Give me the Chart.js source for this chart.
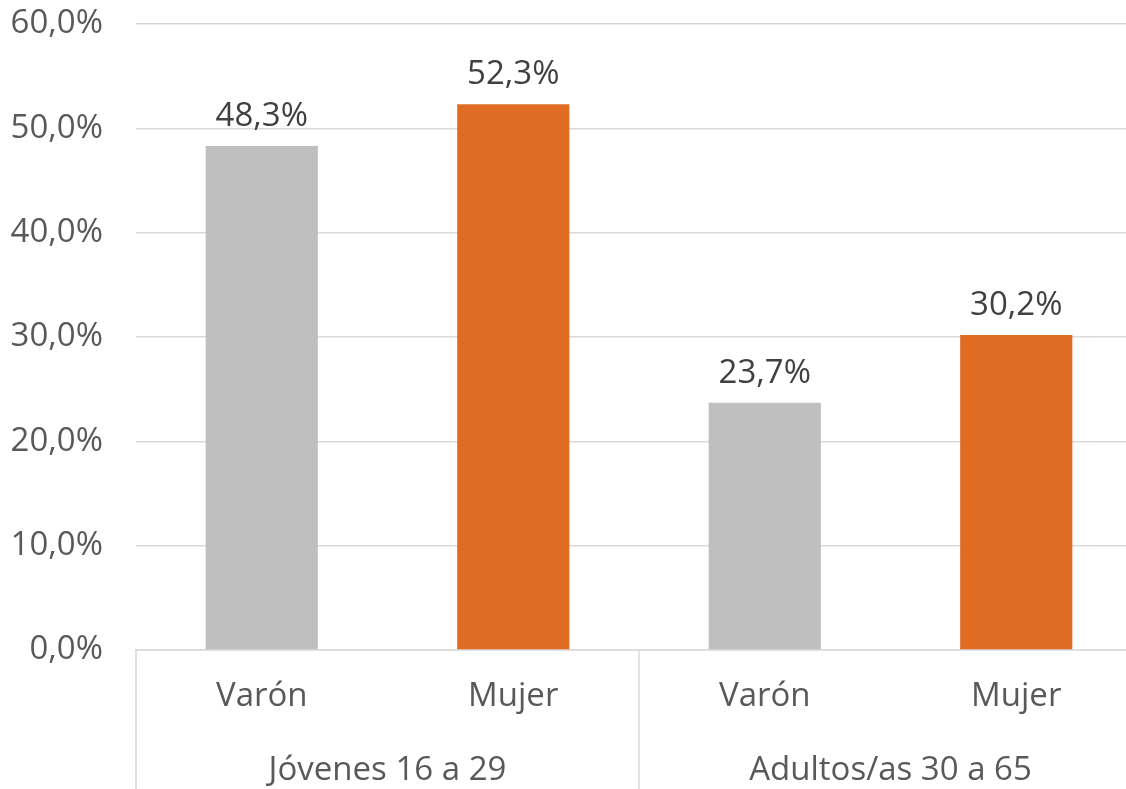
<!DOCTYPE html>
<html>
<head>
<meta charset="utf-8">
<script src="https://cdn.jsdelivr.net/npm/chart.js@4/dist/chart.umd.min.js"></script>
<style>
    html, body { margin: 0; padding: 0; background: #fff; overflow: hidden; }
    #wrap { width: 1142px; height: 789px; }
</style>
</head>
<body>
<div id="wrap"><canvas id="chart1"></canvas></div>
<script>
// Values
const categories = ["Varón", "Mujer", "Varón", "Mujer"];
const groups = ["Jóvenes 16 a 29", "Adultos/as 30 a 65"];
const values = [48.3, 52.3, 23.7, 30.2];
const barColors = ["#BFBFBF", "#E06B22", "#BFBFBF", "#E06B22"];
const yTicks = [0, 10, 20, 30, 40, 50, 60];

const FONT = "'Open Sans', sans-serif";
const pct = (v) => v.toFixed(1).replace(".", ",") + "%";

// Draws value labels above bars, plus group separators and group labels under the axis
const groupAxisPlugin = {
    id: "groupAxis",
    afterDatasetsDraw(chart) {
        const ctx = chart.ctx;
        const meta = chart.getDatasetMeta(0);
        ctx.save();
        ctx.font = "33px " + FONT;
        ctx.fillStyle = "#404040";
        ctx.textAlign = "center";
        ctx.textBaseline = "bottom";
        meta.data.forEach((bar, i) => {
            ctx.fillText(pct(values[i]), bar.x, bar.y - 13);
        });
        ctx.restore();
    },
    afterDraw(chart) {
        const ctx = chart.ctx;
        const x = chart.scales.x;
        const bottom = chart.chartArea.bottom;
        const perGroup = categories.length / groups.length;
        const half = (x.getPixelForValue(1) - x.getPixelForValue(0)) / 2;
        ctx.save();
        ctx.strokeStyle = "#D9D9D9";
        ctx.lineWidth = 1.5;
        for (let g = 0; g <= groups.length; g++) {
            const idx = Math.min(g * perGroup, categories.length - 1);
            const px = g * perGroup < categories.length
                ? x.getPixelForValue(idx) - half
                : x.getPixelForValue(idx) + half;
            ctx.beginPath();
            ctx.moveTo(px, bottom);
            ctx.lineTo(px, chart.height);
            ctx.stroke();
        }
        ctx.font = "33px " + FONT;
        ctx.fillStyle = "#595959";
        ctx.textAlign = "center";
        ctx.textBaseline = "middle";
        groups.forEach((name, g) => {
            const a = x.getPixelForValue(g * perGroup);
            const b = x.getPixelForValue(g * perGroup + perGroup - 1);
            ctx.fillText(name, (a + b) / 2, bottom + 121);
        });
        ctx.restore();
    }
};

const chartData = {
    labels: categories,
    datasets: [
        {
            data: values,
            backgroundColor: barColors,
            barPercentage: 0.446,
            categoryPercentage: 1.0
        }
    ]
};

const chartConfig = {
    type: "bar",
    data: chartData,
    options: {
        responsive: true,
        maintainAspectRatio: false,
        animation: false,
        layout: {
            padding: { top: 24, right: 0, bottom: 0, left: 0 }
        },
        plugins: {
            legend: { display: false },
            tooltip: { enabled: false }
        },
        scales: {
            x: {
                grid: { display: false, drawTicks: false },
                border: { display: true, color: "#D9D9D9", width: 1.5 },
                ticks: {
                    color: "#595959",
                    font: { family: FONT, size: 33 },
                    padding: 27,
                    maxRotation: 0
                },
                afterFit: (scale) => { scale.height = 139; }
            },
            y: {
                min: 0,
                max: 60,
                afterBuildTicks: (scale) => {
                    scale.ticks = yTicks.map((v) => ({ value: v }));
                },
                grid: {
                    color: "#D9D9D9",
                    lineWidth: 1.5,
                    drawTicks: true,
                    tickLength: 33,
                    tickColor: "rgba(0,0,0,0)"
                },
                border: { display: false },
                ticks: {
                    color: "#595959",
                    font: { family: FONT, size: 33 },
                    padding: 0,
                    callback: (v) => pct(v)
                },
                afterFit: (scale) => { scale.width = 136; }
            }
        }
    },
    plugins: [groupAxisPlugin]
};

new Chart(document.getElementById("chart1"), chartConfig);
</script>
</body>
</html>
